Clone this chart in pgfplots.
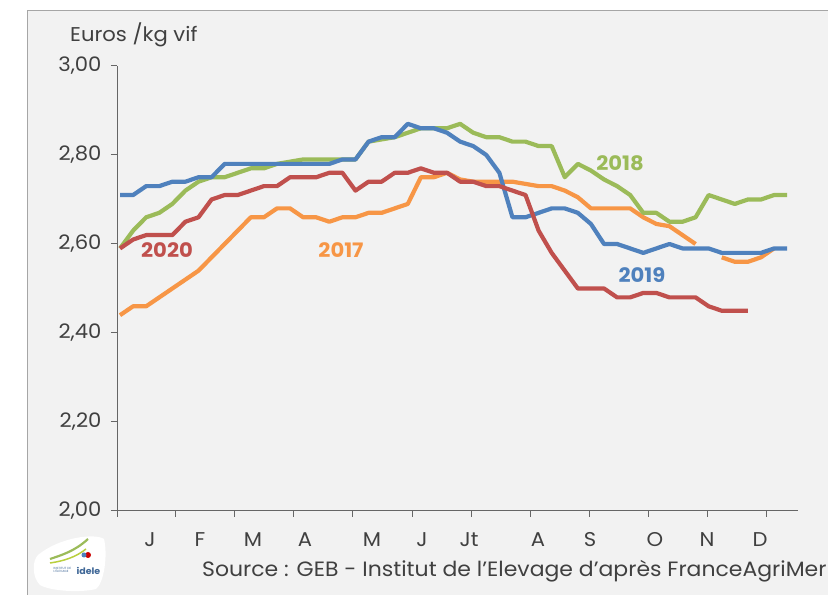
\documentclass[border=0pt]{standalone}
\usepackage{fontspec}
\setmainfont{Poppins}[FakeStretch=1.06]
\usepackage{pgfplots}
\pgfplotsset{compat=1.18}

\definecolor{c17}{HTML}{F79646}
\definecolor{c18}{HTML}{9BBB59}
\definecolor{c19}{HTML}{4F81BD}
\definecolor{c20}{HTML}{C0504D}
\definecolor{bgc}{HTML}{F2F2F2}
\definecolor{txt}{HTML}{404040}

\begin{document}
\begin{tikzpicture}
\begin{scope}[x=1bp,y=1bp]
\useasboundingbox (0,0) rectangle (828,595);
\fill[white] (0,0) rectangle (828,595);
\filldraw[fill=bgc,draw=gray!70,line width=1bp] (27,-10) rectangle (840,584);
\end{scope}

\begin{axis}[
    at={(117bp,84bp)}, anchor=south west,
    scale only axis, width=681bp, height=445bp,
    xmin=0.77, xmax=52.83, ymin=2, ymax=3,
    axis x line*=bottom, axis y line*=left,
    axis line style={draw=gray!80!black,line width=1bp},
    xtick={0.77,5.28,9.79,14.30,18.81,23.33,27.84,32.35,36.86,41.37,45.88,50.39},
    xticklabels={},
    ytick={2,2.2,2.4,2.6,2.8,3},
    tick align=outside, major tick length=6bp,
    tick style={draw=gray!80!black,line width=1bp},
    yticklabel style={font=\fontsize{20}{24}\selectfont,text=txt,xshift=-6bp,
        /pgf/number format/.cd,fixed,fixed zerofill,precision=2,use comma,assume math mode=true},
    unbounded coords=jump,
    every axis plot/.append style={line width=4.2bp,line join=round,no marks},
]
% 2017
\addplot[c17] coordinates {
(1,2.44)(2,2.46)(3,2.46)(4,2.48)(5,2.50)(6,2.52)(7,2.54)(8,2.57)(9,2.60)(10,2.63)
(11,2.66)(12,2.66)(13,2.68)(14,2.68)(15,2.66)(16,2.66)(17,2.65)(18,2.66)(19,2.66)(20,2.67)
(21,2.67)(22,2.68)(23,2.69)(24,2.75)(25,2.75)(26,2.76)(27,2.745)(28,2.74)(29,2.74)(30,2.74)
(31,2.74)(32,2.735)(33,2.73)(34,2.73)(35,2.72)(36,2.705)(37,2.68)(38,2.68)(39,2.68)(40,2.68)
(41,2.66)(42,2.645)(43,2.64)(44,2.62)(45,2.60)(46,nan)(47,2.57)(48,2.56)(49,2.56)(50,2.57)
(51,2.59)};
% 2018
\addplot[c18] coordinates {
(1,2.59)(2,2.63)(3,2.66)(4,2.67)(5,2.69)(6,2.72)(7,2.74)(8,2.75)(9,2.75)(10,2.76)
(11,2.77)(12,2.77)(13,2.78)(14,2.785)(15,2.79)(16,2.79)(17,2.79)(18,2.79)(19,2.79)(20,2.83)
(21,2.835)(22,2.84)(23,2.85)(24,2.86)(25,2.86)(26,2.86)(27,2.87)(28,2.85)(29,2.84)(30,2.84)
(31,2.83)(32,2.83)(33,2.82)(34,2.82)(35,2.75)(36,2.78)(37,2.765)(38,2.745)(39,2.73)(40,2.71)
(41,2.67)(42,2.67)(43,2.65)(44,2.65)(45,2.66)(46,2.71)(47,2.70)(48,2.69)(49,2.70)(50,2.70)
(51,2.71)(52,2.71)};
% 2019
\addplot[c19] coordinates {
(1,2.71)(2,2.71)(3,2.73)(4,2.73)(5,2.74)(6,2.74)(7,2.75)(8,2.75)(9,2.78)(10,2.78)
(11,2.78)(12,2.78)(13,2.78)(14,2.78)(15,2.78)(16,2.78)(17,2.78)(18,2.79)(19,2.79)(20,2.83)
(21,2.84)(22,2.84)(23,2.87)(24,2.86)(25,2.86)(26,2.85)(27,2.83)(28,2.82)(29,2.80)(30,2.76)
(31,2.66)(32,2.66)(33,2.67)(34,2.68)(35,2.68)(36,2.67)(37,2.645)(38,2.60)(39,2.60)(40,2.59)
(41,2.58)(42,2.59)(43,2.60)(44,2.59)(45,2.59)(46,2.59)(47,2.58)(48,2.58)(49,2.58)(50,2.58)
(51,2.59)(52,2.59)};
% 2020
\addplot[c20] coordinates {
(1,2.59)(2,2.61)(3,2.62)(4,2.62)(5,2.62)(6,2.65)(7,2.66)(8,2.70)(9,2.71)(10,2.71)
(11,2.72)(12,2.73)(13,2.73)(14,2.75)(15,2.75)(16,2.75)(17,2.76)(18,2.76)(19,2.72)(20,2.74)
(21,2.74)(22,2.76)(23,2.76)(24,2.77)(25,2.76)(26,2.76)(27,2.74)(28,2.74)(29,2.73)(30,2.73)
(31,2.72)(32,2.71)(33,2.63)(34,2.58)(35,2.54)(36,2.50)(37,2.50)(38,2.50)(39,2.48)(40,2.48)
(41,2.49)(42,2.49)(43,2.48)(44,2.48)(45,2.48)(46,2.46)(47,2.45)(48,2.45)(49,2.45)};
\end{axis}

\begin{scope}[x=1bp,y=1bp]
% month labels
\foreach \px/\m in {150/J,200/F,253/M,305/A,372/M,422/J,469/Jt,538/A,590/S,655/O,707/N,760/D}
  \node[text=txt,font=\fontsize{20}{24}\selectfont,anchor=base,inner sep=0pt] at (\px,48) {\m};

% axis title
\node[text=txt,font=\fontsize{20}{24}\selectfont,anchor=base west,inner sep=0pt] at (70,553) {Euros /kg vif};

% series labels
\begin{scope}[font=\fontsize{20}{24}\selectfont\bfseries]
\node[text=c20] at (167,345) {2020};
\node[text=c17] at (341,345) {2017};
\node[text=c18] at (620,432) {2018};
\node[text=c19] at (642,320) {2019};
\end{scope}

% source
\node[text=txt,font=\fontsize{20.8}{24}\selectfont,anchor=base west,inner sep=0pt] at (202,18) {Source : GEB - Institut de l’Elevage d’après FranceAgriMer};

% logo
\fill[white] (38,40) .. controls (60,58) and (95,62) .. (104,56)
  .. controls (108,40) and (104,12) .. (96,6) .. controls (80,2) and (50,4) .. (40,10)
  .. controls (32,18) and (32,34) .. (38,40);
\draw[c18,line width=2.2bp] (50,36) .. controls (62,40) and (75,44) .. (88,56);
\draw[c18!70!yellow,line width=1.5bp] (50,32) .. controls (64,34) and (76,38) .. (86,46);
\fill[red!80!black] (88,40) circle (3bp);
\fill[c19] (84,40) circle (2.5bp);
\node[text=c19!80!black,font=\fontsize{9}{10}\selectfont\bfseries,anchor=base west] at (73,20) {idele};
\node[text=c19!80!black,font=\fontsize{3}{3.5}\selectfont,align=left,anchor=base west] at (50,22) {INSTITUT DE\\L’ÉLEVAGE};
\end{scope}
\end{tikzpicture}
\end{document}
